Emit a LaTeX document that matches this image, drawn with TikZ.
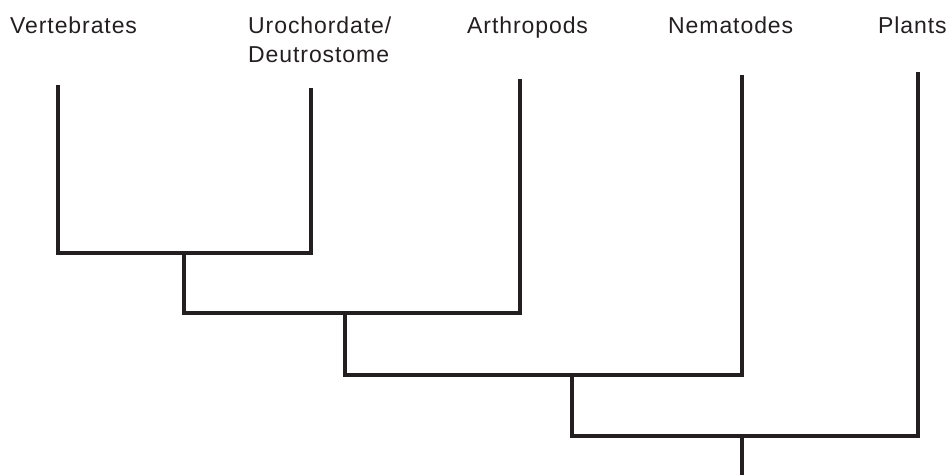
\documentclass[tikz,border=0pt]{standalone}
\usepackage{fontspec}
\setmainfont{Liberation Sans}[LetterSpace=4]
\definecolor{ink}{HTML}{231F20}
\begin{document}
\begin{tikzpicture}[x=1pt,y=-1pt,
  lbl/.style={anchor=base west, inner sep=0pt, text=ink, align=left,
    font=\fontsize{23}{29}\selectfont},
  branch/.style={draw=ink, line width=4pt, line join=miter, line cap=butt}]
\useasboundingbox (0,0) rectangle (947,475);
% labels
\node[lbl] (lv) at (10,33) {Vertebrates};
\node[lbl] (lu) at (248,62) {Urochordate/\\Deutrostome};
\node[lbl] (la) at (467,33) {Arthropods};
\node[lbl] (ln) at (668,33) {Nematodes};
\node[lbl] (lp) at (878,33) {Plants};
% tips
\coordinate (tv) at (58,85);
\coordinate (tu) at (311,88);
\coordinate (ta) at (520,79);
\coordinate (tn) at (742,75);
\coordinate (tp) at (918,72);
% internal nodes
\coordinate (n1) at (184,253);
\coordinate (n2) at (345,313);
\coordinate (n3) at (572,375);
\coordinate (n4) at (742,436);
\coordinate (root) at (742,475);
% branches
\draw[branch] (tv) |- (n1) -| (tu);
\draw[branch] (n1) |- (n2) -| (ta);
\draw[branch] (n2) |- (n3) -| (tn);
\draw[branch] (n3) |- (n4) -| (tp);
\draw[branch] (n4) -- (root);
\end{tikzpicture}
\end{document}
